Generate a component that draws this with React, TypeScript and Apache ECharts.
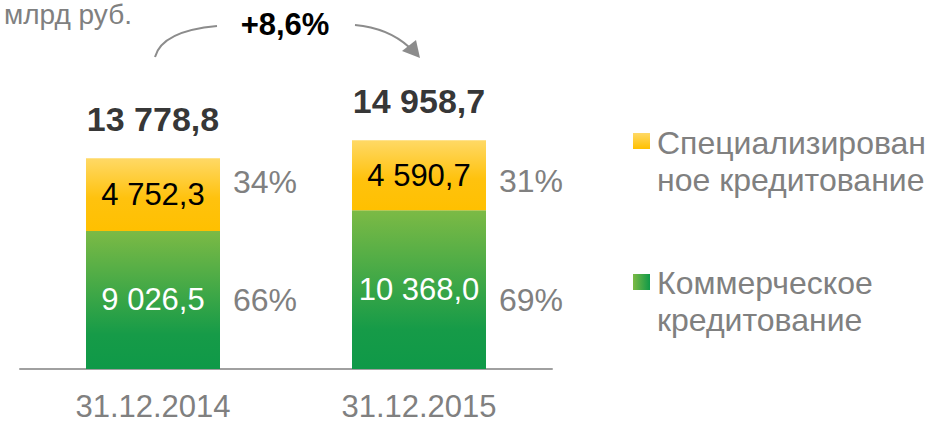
import React, { useEffect, useRef } from 'react';
import * as echarts from 'echarts';

const categories = ['31.12.2014', '31.12.2015'];
const commercial = [9026.5, 10368.0];
const specialized = [4752.3, 4590.7];
const totals = [13778.8, 14958.7];
const commercialShare = [66, 69];
const specializedShare = [34, 31];
const seriesNames = ['Коммерческое кредитование', 'Специализированное кредитование'];
const legendTexts = ['Специализирован\nное кредитование', 'Коммерческое\nкредитование'];
const growthText = '+8,6%';
const unitText = 'млрд руб.';

const FONT = '"Liberation Sans", Arial, sans-serif';
const GRAY = '#808080';
const ARROW = '#8C8C8C';

function fmt(v: number): string {
  const [i, d] = v.toFixed(1).split('.');
  return i.replace(/\B(?=(\d{3})+(?!\d))/g, ' ') + ',' + d;
}

export default function App() {
  const ref = useRef<HTMLDivElement>(null);
  useEffect(() => {
    document.body.style.margin = '0';
    if (!ref.current) return;
    const chart = echarts.init(ref.current, null, { renderer: 'svg' });

    const yellowGrad = () =>
      new echarts.graphic.LinearGradient(0, 0, 0, 1, [
        { offset: 0, color: '#FFD966' },
        { offset: 0.55, color: '#FFC20E' },
        { offset: 1, color: '#FFC000' },
      ]);
    const greenGrad = () =>
      new echarts.graphic.LinearGradient(0, 0, 0, 1, [
        { offset: 0, color: '#7CBA45' },
        { offset: 0.75, color: '#169B48' },
        { offset: 1, color: '#0F9948' },
      ]);

    // vertical nudges of the share labels (styling, not data)
    const specialNudge = [-13, 6];
    const commercialNudge = [0, 10];

    const barCommon = { type: 'bar', barWidth: 134, barGap: '-100%' };

    const option: any = {
      animation: false,
      grid: { left: 20, right: 381, top: 63, bottom: 57 },
      xAxis: {
        type: 'category',
        data: categories,
        axisLine: { lineStyle: { color: '#A0A0A0', width: 2 } },
        axisTick: { show: false },
        axisLabel: { color: GRAY, fontSize: 31, fontFamily: FONT, margin: 22 },
      },
      yAxis: { type: 'value', min: 0, max: 20000, show: false },
      series: [
        {
          ...barCommon,
          name: seriesNames[0],
          stack: 'a',
          data: commercial,
          itemStyle: { color: greenGrad() },
          label: {
            show: true,
            position: 'inside',
            color: '#FFFFFF',
            fontSize: 31,
            fontFamily: FONT,
            formatter: (p: any) => fmt(p.value),
          },
        },
        {
          ...barCommon,
          name: seriesNames[1],
          stack: 'a',
          data: specialized,
          itemStyle: { color: yellowGrad() },
          label: {
            show: true,
            position: 'inside',
            color: '#000000',
            fontSize: 31,
            fontFamily: FONT,
            formatter: (p: any) => fmt(p.value),
          },
        },
        {
          ...barCommon,
          name: 'share-commercial',
          stack: 'b',
          silent: true,
          itemStyle: { color: 'rgba(0,0,0,0)' },
          data: commercial.map((v, i) => ({
            value: v,
            label: { offset: [0, commercialNudge[i]] },
          })),
          label: {
            show: true,
            position: 'right',
            distance: 13,
            color: GRAY,
            fontSize: 32,
            fontFamily: FONT,
            formatter: (p: any) => commercialShare[p.dataIndex] + '%',
          },
        },
        {
          ...barCommon,
          name: 'share-special',
          stack: 'b',
          silent: true,
          itemStyle: { color: 'rgba(0,0,0,0)' },
          data: specialized.map((v, i) => ({
            value: v,
            label: { offset: [0, specialNudge[i]] },
          })),
          label: {
            show: true,
            position: 'right',
            distance: 13,
            color: GRAY,
            fontSize: 32,
            fontFamily: FONT,
            formatter: (p: any) => specializedShare[p.dataIndex] + '%',
          },
        },
        {
          type: 'scatter',
          name: 'total',
          symbolSize: 0,
          silent: true,
          data: totals,
          label: {
            show: true,
            position: 'top',
            distance: 22,
            color: '#000000',
            fontSize: 34,
            fontWeight: 'bold',
            fontFamily: FONT,
            formatter: (p: any) => fmt(p.value),
          },
        },
      ],
      graphic: [
        {
          type: 'text',
          x: 132,
          y: 0,
          style: {
            text: unitText,
            fill: GRAY,
            fontSize: 28,
            fontFamily: FONT,
            align: 'right',
            verticalAlign: 'top',
          },
        },
        {
          type: 'text',
          x: 285,
          y: 24,
          style: {
            text: growthText,
            fill: '#000000',
            fontSize: 31,
            fontWeight: 'bold',
            fontFamily: FONT,
            align: 'center',
            verticalAlign: 'middle',
          },
        },
        {
          type: 'bezierCurve',
          shape: { x1: 155, y1: 57, x2: 217, y2: 26, cpx1: 162, cpy1: 31 },
          style: { stroke: ARROW, lineWidth: 2, fill: 'none' },
        },
        {
          type: 'bezierCurve',
          shape: { x1: 355, y1: 25, x2: 409, y2: 47, cpx1: 388, cpy1: 28 },
          style: { stroke: ARROW, lineWidth: 2, fill: 'none' },
        },
        {
          type: 'polygon',
          shape: { points: [[402, 51], [416, 40], [420, 58]] },
          style: { fill: ARROW },
        },
        {
          type: 'rect',
          shape: { x: 633, y: 133, width: 17, height: 16 },
          style: {
            fill: new echarts.graphic.LinearGradient(0, 0, 0, 1, [
              { offset: 0, color: '#FFD966' },
              { offset: 1, color: '#FFC000' },
            ]),
          },
        },
        {
          type: 'text',
          x: 657,
          y: 124,
          style: {
            text: legendTexts[0],
            fill: GRAY,
            fontSize: 32,
            lineHeight: 37,
            fontFamily: FONT,
            align: 'left',
            verticalAlign: 'top',
          },
        },
        {
          type: 'rect',
          shape: { x: 633, y: 274, width: 17, height: 16 },
          style: {
            fill: new echarts.graphic.LinearGradient(0, 0, 1, 0, [
              { offset: 0, color: '#7CBA45' },
              { offset: 1, color: '#0F9948' },
            ]),
          },
        },
        {
          type: 'text',
          x: 657,
          y: 264,
          style: {
            text: legendTexts[1],
            fill: GRAY,
            fontSize: 32,
            lineHeight: 37,
            fontFamily: FONT,
            align: 'left',
            verticalAlign: 'top',
          },
        },
      ],
    };
    chart.setOption(option);
    return () => chart.dispose();
  }, []);
  return <div ref={ref} style={{ width: 933, height: 426 }} />;
}
